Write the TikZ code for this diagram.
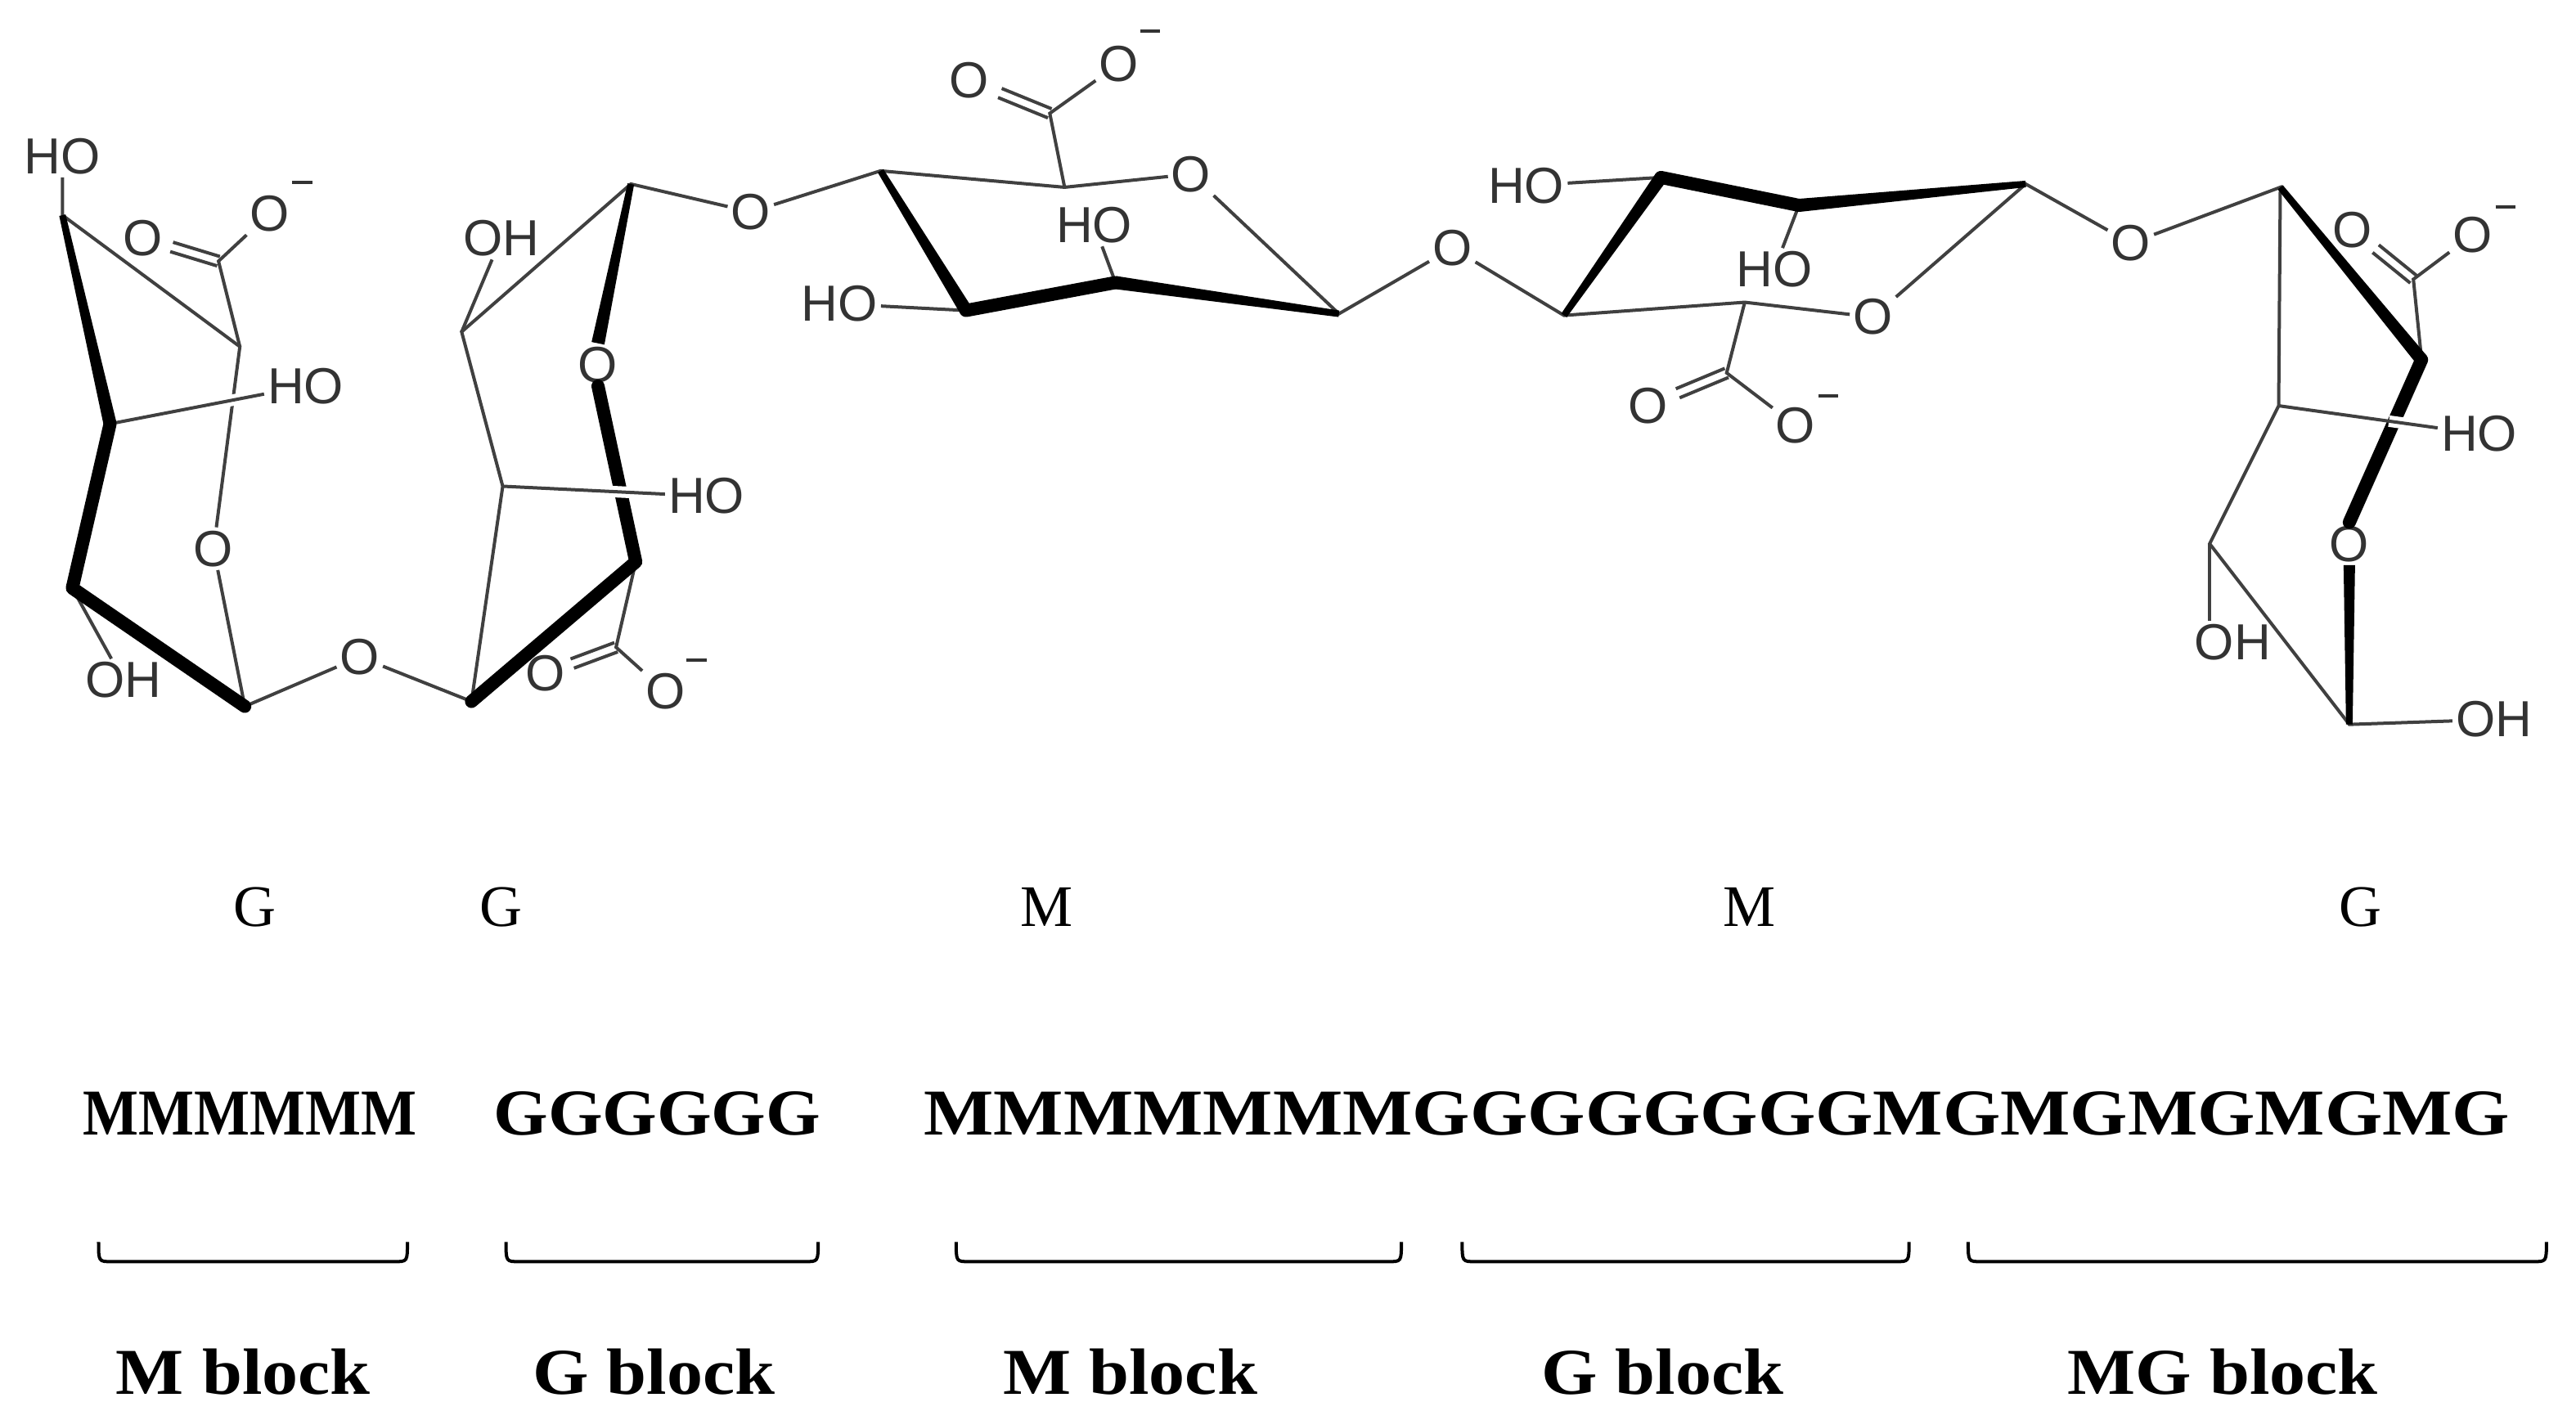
\documentclass[tikz,border=0pt]{standalone}
\usepackage{fontspec}
\setmainfont{Liberation Serif}
\newfontfamily\chemf{Liberation Sans}
\usetikzlibrary{calc}
\tikzset{
 atm/.style={font=\chemf\fontsize{62}{62}\selectfont, inner sep=4pt, text=black!80},
 bd/.style={line width=4pt, black!75},
 bb/.style={line width=16pt, line join=round, line cap=round},
 wt/.style={line width=14pt, white},
 lab/.style={font=\fontsize{72}{72}\selectfont},
 seq/.style={font=\bfseries\fontsize{80}{80}\selectfont, inner sep=0pt},
 brs/.style={line width=4pt},
}
\newcommand\wdg[3]{\fill ($(#1)!4pt!90:(#2)$) -- ($(#1)!4pt!-90:(#2)$) -- ($(#2)!#3!90:(#1)$) -- ($(#2)!#3!-90:(#1)$) -- cycle;}
\newcommand\mns[1]{\draw[line width=4pt,black!80] ($(#1)+(-6,0)$) -- ($(#1)+(6,0)$);}
\newcommand\dbl[2]{%
 \coordinate (tmpE) at ($(#1)!0.62!(#2)$);
 \draw[bd] ($(#1)!6pt!90:(#2)$) -- ($(tmpE)!6pt!-90:(#1)$);
 \draw[bd] ($(#1)!-6pt!90:(#2)$) -- ($(tmpE)!-6pt!-90:(#1)$);}
\newcommand\ubr[3]{\draw[brs] (#1,#3) .. controls (#1,#3+12) .. (#1+8,#3+12) -- (#2-8,#3+12) .. controls (#2,#3+12) .. (#2,#3);}
\begin{document}
\begin{tikzpicture}[x=2.008pt,y=-2.008pt]
\useasboundingbox (0,0) rectangle (1568,864);
% ---- ring 1 (G)
\coordinate (a1) at (38,131); \coordinate (k1) at (133,159); \coordinate (c1) at (146,211);
\coordinate (a3) at (67,258); \coordinate (a4) at (44,358); \coordinate (c5) at (149,430);
\node[atm] (ho1) at (38,95) {HO};
\node[atm] (o1d) at (87,145) {O}; \node[atm] (o1m) at (164,130) {O}; \coordinate (m1) at (184,111);
\node[atm] (ho2) at (186,235) {HO};
\node[atm] (or1) at (130,334) {O};
\node[atm] (oh1) at (75,414) {OH};
\node[atm] (ol1) at (219,400) {O};
\draw[bd] (ho1) -- (a1) -- (c1) -- (or1) -- (c5) -- (ol1);
\draw[bd] (c1) -- (k1) -- (o1m);
\dbl{k1}{o1d}
\mns{m1}
\draw[wt] ($(a3)!0.3!(ho2)$) -- ($(a3)!0.72!(ho2)$);
\draw[bd] (a3) -- (ho2);
\draw[bd] (a4) -- (oh1);
\wdg{a1}{a3}{8pt}
\draw[bb] (a3) -- (a4) -- (c5);
% ---- ring 2 (G)
\coordinate (c6) at (287,427); \coordinate (b1) at (306,296); \coordinate (b2) at (281,202);
\coordinate (b3) at (384,112); \coordinate (b4) at (387,342); \coordinate (k2) at (375,394);
\node[atm] (oh2) at (305,145) {OH};
\node[atm] (ol2) at (457,129) {O};
\node[atm] (or2) at (364,222) {O};
\node[atm] (ho3) at (430,302) {HO};
\node[atm] (o2d) at (332,410) {O}; \node[atm] (o2m) at (405,421) {O}; \coordinate (m2) at (424,402);
\draw[bd] (ol1) -- (c6) -- (b1) -- (b2) -- (b3) -- (ol2);
\draw[bd] (b2) -- (oh2);
\draw[bd] (b4) -- (k2) -- (o2m);
\dbl{k2}{o2d}
\mns{m2}
\wdg{b3}{or2.north}{8pt}
\draw[bb] (or2.south) -- (b4) -- (c6);
\draw[wt] ($(b1)!0.5!(ho3)$) -- ($(b1)!0.76!(ho3)$);
\draw[bd] (b1) -- (ho3);
% ---- ring 3 (M)
\coordinate (d1) at (536,104); \coordinate (d2) at (648,114); \coordinate (d3) at (815,191);
\coordinate (d4) at (588,189); \coordinate (d5) at (679,172); \coordinate (k3) at (639,69);
\node[atm] (or3) at (725,106) {O};
\node[atm] (ol3) at (884,151) {O};
\node[atm] (ho4) at (511,185) {HO};
\node[atm] (ho5) at (666,137) {HO};
\node[atm] (o3d) at (590,49) {O}; \node[atm] (o3m) at (681,39) {O}; \coordinate (m3) at (700,19);
\draw[bd] (ol2) -- (d1) -- (d2) -- (or3) -- (d3) -- (ol3);
\draw[bd] (d2) -- (k3) -- (o3m);
\dbl{k3}{o3d}
\mns{m3}
\draw[bd] (d4) -- (ho4);
\draw[bd] (d5) -- (ho5);
\wdg{d1}{d4}{8pt}
\draw[bb] (d4) -- (d5);
\wdg{d3}{d5}{8pt}
% ---- ring 4 (M)
\coordinate (e1) at (952,192); \coordinate (e2) at (1011,108); \coordinate (e3) at (1095,125);
\coordinate (e4) at (1233,112); \coordinate (e5) at (1062,184); \coordinate (k4) at (1051,227);
\node[atm] (ho6) at (929,113) {HO};
\node[atm] (ho7) at (1080,164) {HO};
\node[atm] (or4) at (1140,193) {O};
\node[atm] (ol4) at (1297,148) {O};
\node[atm] (o4d) at (1003,247) {O}; \node[atm] (o4m) at (1093,259) {O}; \coordinate (m4) at (1113,241);
\draw[bd] (ol3) -- (e1) -- (e5) -- (or4) -- (e4) -- (ol4);
\draw[bd] (e2) -- (ho6);
\draw[bd] (e3) -- (ho7);
\draw[bd] (e5) -- (k4) -- (o4m);
\dbl{k4}{o4d}
\mns{m4}
\wdg{e1}{e2}{8pt}
\draw[bb] (e2) -- (e3);
\wdg{e4}{e3}{8pt}
% ---- ring 5 (G)
\coordinate (f1) at (1388,114); \coordinate (f2) at (1387,247); \coordinate (f3) at (1474,219);
\coordinate (f4) at (1345,331); \coordinate (f5) at (1430,441); \coordinate (k5) at (1469,170);
\node[atm] (o5d) at (1432,140) {O}; \node[atm] (o5m) at (1505,143) {O}; \coordinate (m5) at (1525,126);
\node[atm] (or5) at (1430,331) {O};
\node[atm] (ho8) at (1509,264) {HO};
\node[atm] (oh3) at (1359,391) {OH};
\node[atm] (oh4) at (1518,438) {OH};
\draw[bd] (ol4) -- (f1) -- (f2) -- (f4) -- (f5) -- (oh4);
\draw[bd] (f4) -- (oh3.north -| f4);
\draw[bd] (f3) -- (k5) -- (o5m);
\dbl{k5}{o5d}
\mns{m5}
\wdg{f1}{f3}{8pt}
\draw[bb] (f3) -- (or5.north);
\wdg{f5}{or5.south}{7pt}
\draw[wt] ($(f2)!0.55!(ho8)$) -- ($(f2)!0.76!(ho8)$);
\draw[bd] (f2) -- (ho8);
% ---- labels
\node[lab] (l1) at (155,552) {G};
\node[lab] (l2) at (305,552) {G};
\node[lab] (l3) at (637,552) {M};
\node[lab] (l4) at (1065,552) {M};
\node[lab] (l5) at (1437,552) {G};
\node[seq] (s1) at (152,678) {\scalebox{0.9}[1]{MMMMMM}};
\node[seq] (s2) at (400,678) {\scalebox{1.07}[1]{GGGGGG}};
\node[seq] (s3) at (1045,678) {\scalebox{1.13}[1]{MMMMMMMGGGGGGGGMGMGMGMGMG}};
\ubr{60}{248}{756}
\ubr{308}{498}{756}
\ubr{582}{853}{756}
\ubr{890}{1162}{756}
\ubr{1198}{1550}{756}
\node[seq] (b1l) at (148,835) {\scalebox{1.1}[1]{M block}};
\node[seq] (b2l) at (398,835) {\scalebox{1.1}[1]{G block}};
\node[seq] (b3l) at (688,835) {\scalebox{1.1}[1]{M block}};
\node[seq] (b4l) at (1012,835) {\scalebox{1.1}[1]{G block}};
\node[seq] (b5l) at (1353,835) {\scalebox{1.1}[1]{MG block}};
\end{tikzpicture}
\end{document}
